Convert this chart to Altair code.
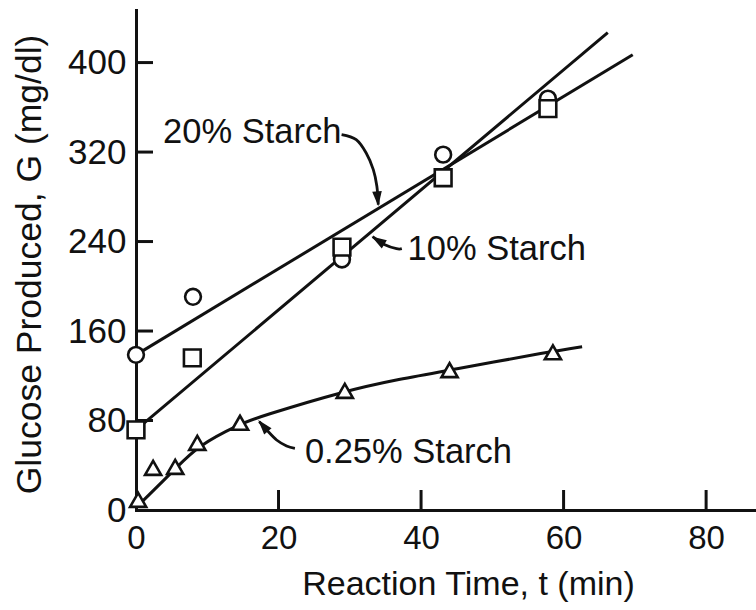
import altair as alt
import pandas as pd

FONT = "Liberation Sans"
INK = "#111111"

# ---- measured data (read from the picture) ----
# 20% starch (circles)
t20 = [0.0, 8.0, 28.9, 43.1, 57.8]
g20 = [138.7, 190.6, 224.0, 317.7, 367.8]
# 10% starch (squares)
t10 = [0.0, 7.9, 28.9, 43.1, 57.8]
g10 = [71.6, 136.0, 235.0, 297.0, 358.8]
# 0.25% starch (triangles)
t025 = [0.3, 2.4, 5.5, 8.6, 14.6, 29.3, 44.0, 58.5]
g025 = [9.0, 37.6, 38.5, 60.0, 78.0, 106.5, 125.0, 141.0]

# drawn fit lines
fit20_t = [0.0, 69.7]
fit20_g = [138.7, 407.0]
fit10_t = [0.0, 66.2]
fit10_g = [71.6, 426.8]
curve_t = [0.3, 5.8, 8.6, 14.6, 17.4, 29.3, 37.0, 44.0, 58.5, 62.6]
curve_g = [4.0, 38.5, 57.0, 77.0, 83.5, 106.5, 117.0, 125.0, 142.0, 146.0]

# annotation labels
lab_text = ["20% Starch", "10% Starch", "0.25% Starch"]
lab_t = [3.8, 38.1, 23.7]
lab_g = [328.4, 223.7, 42.1]

# annotation arrows (curves) and heads
arr20_t = [28.85, 30.9, 32.3, 33.3, 33.8, 34.0]
arr20_g = [335.6, 331.1, 319.2, 304.3, 289.4, 273.0]
arr10_t = [33.2, 34.92, 36.56, 37.3]
arr10_g = [244.3, 237.1, 233.6, 233.6]
arr025_t = [17.3, 18.33, 19.73, 21.13, 22.3]
arr025_g = [79.0, 71.6, 62.6, 57.3, 55.2]
head_t = [34.0, 33.06, 17.15]
head_g = [271.5, 244.6, 80.5]
head_angle = [355, 122, 140]

x_ticks = [0, 20, 40, 60, 80]
y_ticks = [0, 80, 160, 240, 320, 400]

XDOM = [0, 87]
YDOM = [0, 447]

xs = alt.Scale(domain=XDOM, nice=False, zero=False)
ys = alt.Scale(domain=YDOM, nice=False, zero=False)

xaxis = alt.Axis(values=x_ticks, tickSize=0, labelPadding=12, labelFontSize=33,
                 labelFont=FONT, labelColor=INK, labelFlush=False, labelOverlap=False,
                 domainWidth=3, domainColor=INK, grid=False,
                 title="Reaction Time, t (min)", titleFont=FONT, titleFontSize=34,
                 titleFontWeight="normal", titleColor=INK, titleX=332, titleY=84,
                 titleBaseline="alphabetic", titleAlign="center")
yaxis = alt.Axis(values=y_ticks, tickSize=0, labelPadding=10, labelFontSize=35,
                 labelFont=FONT, labelColor=INK, labelFlush=False, labelOverlap=False,
                 domainWidth=3, domainColor=INK, grid=False,
                 title="Glucose Produced, G (mg/dl)", titleFont=FONT, titleFontSize=35.5,
                 titleFontWeight="normal", titleColor=INK, titleX=-107, titleY=254,
                 titleAngle=270, titleBaseline="middle", titleAlign="center")

X = lambda: alt.X("t:Q", scale=xs, axis=xaxis)
Y = lambda: alt.Y("g:Q", scale=ys, axis=yaxis)

fits = pd.DataFrame(
    [{"s": "20", "t": a, "g": b} for a, b in zip(fit20_t, fit20_g)]
    + [{"s": "10", "t": a, "g": b} for a, b in zip(fit10_t, fit10_g)]
)
curve = pd.DataFrame({"t": curve_t, "g": curve_g})
p20 = pd.DataFrame({"t": t20, "g": g20})
p10 = pd.DataFrame({"t": t10, "g": g10})
p025 = pd.DataFrame({"t": t025, "g": g025})
labels = pd.DataFrame({"t": lab_t, "g": lab_g, "txt": lab_text})
arrows = pd.DataFrame(
    [{"s": "a", "t": a, "g": b} for a, b in zip(arr20_t, arr20_g)]
    + [{"s": "b", "t": a, "g": b} for a, b in zip(arr10_t, arr10_g)]
    + [{"s": "c", "t": a, "g": b} for a, b in zip(arr025_t, arr025_g)]
)
heads = pd.DataFrame({"t": head_t, "g": head_g, "a": head_angle})
xt = pd.DataFrame({"t": x_ticks[1:]})
yt = pd.DataFrame({"g": y_ticks[1:]})

fit_lines = alt.Chart(fits).mark_line(color=INK, strokeWidth=3).encode(
    x=X(), y=Y(), detail="s:N")
curve_line = alt.Chart(curve).mark_line(color=INK, strokeWidth=3, interpolate="basis").encode(
    x=X(), y=Y())
arrow_lines = alt.Chart(arrows).mark_line(color=INK, strokeWidth=2.8, interpolate="cardinal").encode(
    x=X(), y=Y(), detail="s:N", order=alt.Order("g:Q", sort="descending"))
arrow_heads = alt.Chart(heads).mark_point(
    shape="M0,0L-0.32,-1L0.32,-1Z", filled=True, color=INK, opacity=1, size=900, strokeWidth=0
).encode(x=X(), y=Y(), angle=alt.Angle("a:Q", scale=None))

circles = alt.Chart(p20).mark_point(shape="circle", size=250, fill="white", stroke=INK,
                                    strokeWidth=2.6, opacity=1, fillOpacity=1).encode(x=X(), y=Y())
squares = alt.Chart(p10).mark_point(shape="square", size=280, fill="white", stroke=INK,
                                    strokeWidth=2.6, opacity=1, fillOpacity=1).encode(x=X(), y=Y())
tris = alt.Chart(p025).mark_point(shape="triangle-up", size=260, fill="white", stroke=INK,
                                  strokeWidth=2.6, opacity=1, fillOpacity=1).encode(x=X(), y=Y())

text = alt.Chart(labels).mark_text(align="left", baseline="alphabetic", font=FONT,
                                   fontSize=34.5, color=INK).encode(x=X(), y=Y(), text="txt:N")

xtick_rules = alt.Chart(xt).mark_rule(color=INK, strokeWidth=3).encode(
    x=X(), y=alt.value(500), y2=alt.value(480))
ytick_rules = alt.Chart(yt).mark_rule(color=INK, strokeWidth=3).encode(
    y=Y(), x=alt.value(0), x2=alt.value(17))

chart = alt.layer(
    xtick_rules, ytick_rules, fit_lines, curve_line, arrow_lines, arrow_heads,
    circles, squares, tris, text
).properties(
    width=620, height=500,
    autosize=alt.AutoSizeParams(type="none"),
    padding={"left": 136, "top": 10, "right": 0, "bottom": 100},
    background="white",
).configure_view(stroke=None).configure_axis(domainCap="square")

chart.save("out.html", embed_options={"renderer": "svg", "actions": False})
